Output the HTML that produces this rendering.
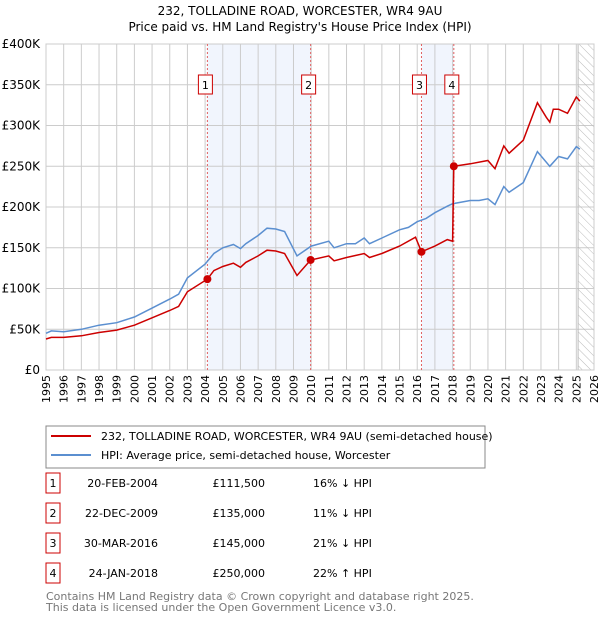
<!DOCTYPE html>
<html><head><meta charset="utf-8"><style>
body{margin:0;background:#fff;font-family:"DejaVu Sans","Liberation Sans",sans-serif;}
</style></head><body>
<svg width="600" height="620" xmlns="http://www.w3.org/2000/svg" font-family="DejaVu Sans, Liberation Sans, sans-serif">
<text x="300" y="15" text-anchor="middle" font-size="12">232, TOLLADINE ROAD, WORCESTER, WR4 9AU</text>
<text x="300" y="31" text-anchor="middle" font-size="12">Price paid vs. HM Land Registry's House Price Index (HPI)</text>
<defs><pattern id="hatch" width="6" height="6" patternUnits="userSpaceOnUse" patternTransform="rotate(-45)"><line x1="0" y1="0" x2="0" y2="6" stroke="#bbb" stroke-width="1"/></pattern></defs>
<g id="plot"></g>
<g>
<rect x="46" y="426" width="439" height="42" fill="#fff" stroke="#888"/>
<line x1="51" y1="436" x2="91" y2="436" stroke="#cc0000" stroke-width="2"/>
<text x="101" y="440" font-size="11">232, TOLLADINE ROAD, WORCESTER, WR4 9AU (semi-detached house)</text>
<line x1="51" y1="455" x2="91" y2="455" stroke="#5b8fd0" stroke-width="2"/>
<text x="101" y="459" font-size="11">HPI: Average price, semi-detached house, Worcester</text>
</g>
<g id="table" font-size="11"></g>
<text x="46" y="600" font-size="11" fill="#777">Contains HM Land Registry data © Crown copyright and database right 2025.</text>
<text x="46" y="611" font-size="11" fill="#777">This data is licensed under the Open Government Licence v3.0.</text>
</svg>
<script>
const hpiYears=[1995,1995.3,1996,1997,1998,1999,2000,2001,2002,2002.5,2003,2004,2004.5,2005,2005.6,2006,2006.3,2007,2007.5,2008,2008.5,2009.2,2010,2011,2011.3,2012,2012.5,2013,2013.3,2014,2015,2015.5,2016,2016.5,2017,2017.7,2018,2019,2019.5,2020,2020.4,2020.9,2021.2,2022,2022.8,2023.5,2024,2024.5,2025,2025.2];
const hpiValues=[45,48,47,50,55,58,65,76,87,93,113,130,143,150,154,149,155,165,174,173,170,140,152,158,150,155,155,162,155,162,172,175,182,186,193,201,204,208,208,210,203,225,218,230,268,250,262,259,274,271];
const ppYears=[1995,1995.3,1996,1997,1998,1999,2000,2001,2002,2002.5,2003,2004.13,2004.5,2005,2005.6,2006,2006.3,2007,2007.5,2008,2008.5,2009.2,2009.97,2011,2011.3,2012,2013,2013.3,2014,2015,2015.9,2016.24,2017,2017.7,2018.0,2018.07,2019,2020,2020.4,2020.9,2021.2,2022,2022.8,2023.3,2023.5,2023.7,2024,2024.5,2025,2025.2];
const ppValues=[38,40,40,42,46,49,55,64,73,78,96,111.5,122,127,131,126,132,140,147,146,143,116,135,140,134,138,143,138,143,152,163,145,152,160,158,250,253,257,247,275,266,282,328,310,304,320,320,315,335,330];
const saleLabels=["1","2","3","4"];
const saleYears=[2004.13,2009.97,2016.24,2018.07];
const saleValues=[111.5,135,145,250];
const saleDates=["20-FEB-2004","22-DEC-2009","30-MAR-2016","24-JAN-2018"];
const salePrices=["£111,500","£135,000","£145,000","£250,000"];
const saleHpi=["16% ↓ HPI","11% ↓ HPI","21% ↓ HPI","22% ↑ HPI"];
const yTicks=[0,50,100,150,200,250,300,350,400];
const yTickLabels=["£0","£50K","£100K","£150K","£200K","£250K","£300K","£350K","£400K"];
const xTicks=[1995,1996,1997,1998,1999,2000,2001,2002,2003,2004,2005,2006,2007,2008,2009,2010,2011,2012,2013,2014,2015,2016,2017,2018,2019,2020,2021,2022,2023,2024,2025,2026];

const L=46,R=594,T=44,B=370;
const xs=y=>L+(y-1995)/(2026-1995)*(R-L);
const ys=v=>B-v/400*(B-T);
const NS="http://www.w3.org/2000/svg";
const g=document.getElementById('plot');
function mk(tag,attrs,parent){const e=document.createElementNS(NS,tag);for(const k in attrs)e.setAttribute(k,attrs[k]);(parent||g).appendChild(e);return e;}
for(let i=0;i<4;i+=2){
 const r=mk('rect',{x:xs(saleYears[i]),y:T,width:xs(saleYears[i+1])-xs(saleYears[i]),height:B-T,fill:'#eef3fc',opacity:0.8});
 
 
}
xTicks.forEach((t,i)=>{
 const l=mk('line',{x1:xs(t),x2:xs(t),y1:T,y2:B,stroke:'#ccc','stroke-width':1});
 
 
 const tx=mk('text',{x:0,y:0,'font-size':11,'text-anchor':'end',transform:`translate(${xs(t)+4},${B+5}) rotate(-90)`});
 tx.textContent=t;
 
 
});
yTicks.forEach((t,i)=>{
 const l=mk('line',{x1:L,x2:R,y1:ys(t),y2:ys(t),stroke:'#ccc','stroke-width':1});
 
 
 const tx=mk('text',{x:L-6,y:ys(t)+4,'font-size':12,'text-anchor':'end'});
 tx.textContent=yTickLabels[i];
 
 
});
const h=mk('rect',{x:xs(2025.1),y:T,width:R-xs(2025.1),height:B-T,fill:'url(#hatch)',stroke:'#bbb'});


mk('rect',{x:L,y:T,width:R-L,height:B-T,fill:'none',stroke:'#ccc'});
saleYears.forEach((s,i)=>{
 const l=mk('line',{x1:xs(s),x2:xs(s),y1:T,y2:B,stroke:'#e06060','stroke-width':1,'stroke-dasharray':'2,2'});
 
 
 const cx=xs(s)-2;
 const r=mk('rect',{x:cx-7,y:75,width:14,height:19,fill:'#fff',stroke:'#cc0000'});
 
 
 const tx=mk('text',{x:cx,y:89,'font-size':11,'text-anchor':'middle'});
 tx.textContent=saleLabels[i];
 
 
});
function path(xsArr,vs,color,name){
 const d=xsArr.map((y,i)=>(i?'L':'M')+xs(y).toFixed(1)+','+ys(vs[i]).toFixed(1)).join('');
 const p=mk('path',{d:d,fill:'none',stroke:color,'stroke-width':1.5});
 
 
}
path(hpiYears,hpiValues,'#5b8fd0','hpi-line');
path(ppYears,ppValues,'#cc0000','price-paid-line');
saleYears.forEach((s,i)=>{
 const c=mk('circle',{cx:xs(s),cy:ys(saleValues[i]),r:4,fill:'#cc0000'});
 
 
});
const tb=document.getElementById('table');
const rowsY=[483,513,543,573];
saleLabels.forEach((lab,i)=>{
 const y=rowsY[i];
 const r=mk('rect',{x:46,y:y-10,width:14,height:20,fill:'#fff',stroke:'#cc0000'},tb);
 
 
 const cells=[[53,lab,'middle'],[158,saleDates[i],'end'],[265,salePrices[i],'end'],[313,saleHpi[i],'start']];
 cells.forEach(c=>{
  const t=mk('text',{x:c[0],y:y+4,'text-anchor':c[2]},tb);
  t.textContent=c[1];
  
  
 });
});
</script>
</body></html>
